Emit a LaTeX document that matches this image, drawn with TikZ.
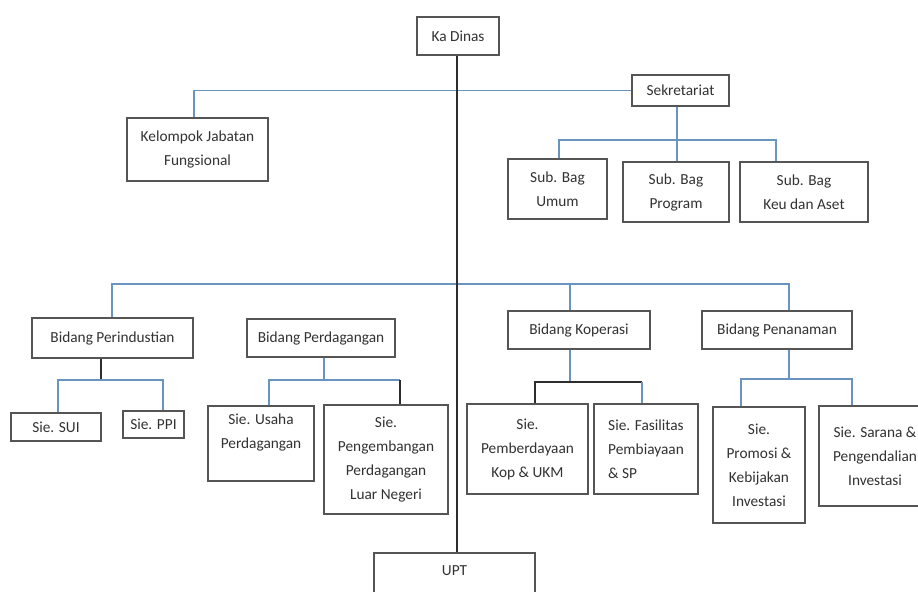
\documentclass[tikz,border=0pt]{standalone}
\usepackage{fontspec}
\setmainfont{Carlito}
\definecolor{bluec}{RGB}{105,148,190}
\definecolor{darkc}{RGB}{45,45,45}
\definecolor{boxc}{RGB}{85,85,85}
\definecolor{txtc}{RGB}{50,50,50}
\newcommand\orgbox[7][]{\node[box,#1,minimum width={(#5-#3)*0.75pt},minimum height={(#6-#4)*0.75pt}] (#2) at ({(#3+#5)/2},{(#4+#6)/2}) {#7};}
\begin{document}
\begin{tikzpicture}[x=0.75pt,y=-0.75pt,
  box/.style={draw=boxc,line width=1.1pt,fill=white,inner sep=0pt,align=center,text=txtc,font=\fontsize{11.5}{18}\selectfont},
  bl/.style={draw=bluec,line width=1pt},
  dk/.style={draw=darkc,line width=1.1pt}]
\useasboundingbox (0,0) rectangle (918,592);
\clip (0,0) rectangle (918,592);
\fill[white] (0,0) rectangle (918,592);
% boxes
\orgbox{kadinas}{417}{17}{499}{55}{Ka Dinas}
\orgbox{kel}{127}{118}{268}{181}{Kelompok Jabatan\\Fungsional}
\orgbox{sek}{632}{75}{729}{106}{Sekretariat}
\orgbox{umum}{508}{159}{607}{219}{Sub. Bag\\Umum}
\orgbox{prog}{623}{162}{729}{222}{Sub. Bag\\Program}
\orgbox{keu}{740}{162}{868}{222}{Sub. Bag\\Keu dan Aset}
\orgbox{bind}{32}{318}{193}{358}{Bidang Perindustian}
\orgbox{bdag}{247}{319}{395}{357}{Bidang Perdagangan}
\orgbox{bkop}{508}{311}{650}{349}{Bidang Koperasi}
\orgbox{bpen}{702}{311}{852}{349}{Bidang Penanaman}
\orgbox{sui}{11}{413}{101}{441}{Sie. SUI}
\orgbox{ppi}{123}{411}{184}{438}{Sie. PPI}
\orgbox{usaha}{208}{406}{314}{481}{Sie. Usaha\\Perdagangan\\\mbox{}}
\orgbox{peng}{324}{405}{448}{514}{Sie.\\Pengembangan\\Perdagangan\\Luar Negeri}
\orgbox{pemb}{467}{404}{588}{494}{Sie.\\Pemberdayaan\\Kop \& UKM}
\orgbox[align=left]{fas}{594}{404}{698}{494}{Sie. Fasilitas\\Pembiayaan\\\& SP}
\orgbox{prom}{713}{407}{805}{523}{Sie.\\Promosi \&\\Kebijakan\\Investasi}
\orgbox{sar}{819}{406}{931}{506}{Sie. Sarana \&\\Pengendalian\\Investasi}
\node[box,minimum width={161*0.75pt},minimum height={60*0.75pt},text height=7.4pt,text depth=19.4pt] (upt) at (454.5,583) {UPT};
% junctions
\coordinate (sekj) at (677,140);
\coordinate (hb1) at (112,284);
\coordinate (hb4) at (789,284);
\coordinate (ij) at (101,380);
\coordinate (dj) at (324,380);
\coordinate (dj2) at (400,380);
\coordinate (kj) at (570,382);
\coordinate (kj2) at (642,382);
\coordinate (pj) at (789,379);
% connectors
\draw[bl] (kel.north -| 194,0) |- (sek.west);
\draw[bl] (sek.south -| sekj) -- (sekj);
\draw[bl] (umum.north -| 559,0) |- (sekj) -| (keu.north -| 776,0);
\draw[bl] (sekj) -- (prog.north -| sekj);
\draw[bl] (bind.north -| hb1) -- (hb1) -- (hb4) -- (bpen.north -| hb4);
\draw[bl] (bdag.north -| 324,0) -- (bdag.north -| 324,0 |- hb1);
\draw[bl] (bkop.north -| 570,0) -- (570,284);
\draw[dk] (bind.south -| ij) -- (ij);
\draw[bl] (sui.north -| 58,0) |- (ij) -| (ppi.north -| 163,0);
\draw[bl] (bdag.south -| dj) -- (dj);
\draw[bl] (usaha.north -| 269,0) |- (dj) -- (dj2);
\draw[dk] (dj2) -- (peng.north -| dj2);
\draw[bl] (bkop.south -| kj) -- (kj);
\draw[dk,line width=1.4pt] (pemb.north -| 535,0) |- (kj) -- (kj2);
\draw[bl] (kj2) -- (fas.north -| kj2);
\draw[bl] (bpen.south -| pj) -- (pj);
\draw[bl] (prom.north -| 741,0) |- (pj) -| (sar.north -| 852,0);
\draw[dk] (kadinas.south -| 457,0) -- (upt.north -| 457,0);
\end{tikzpicture}
\end{document}
